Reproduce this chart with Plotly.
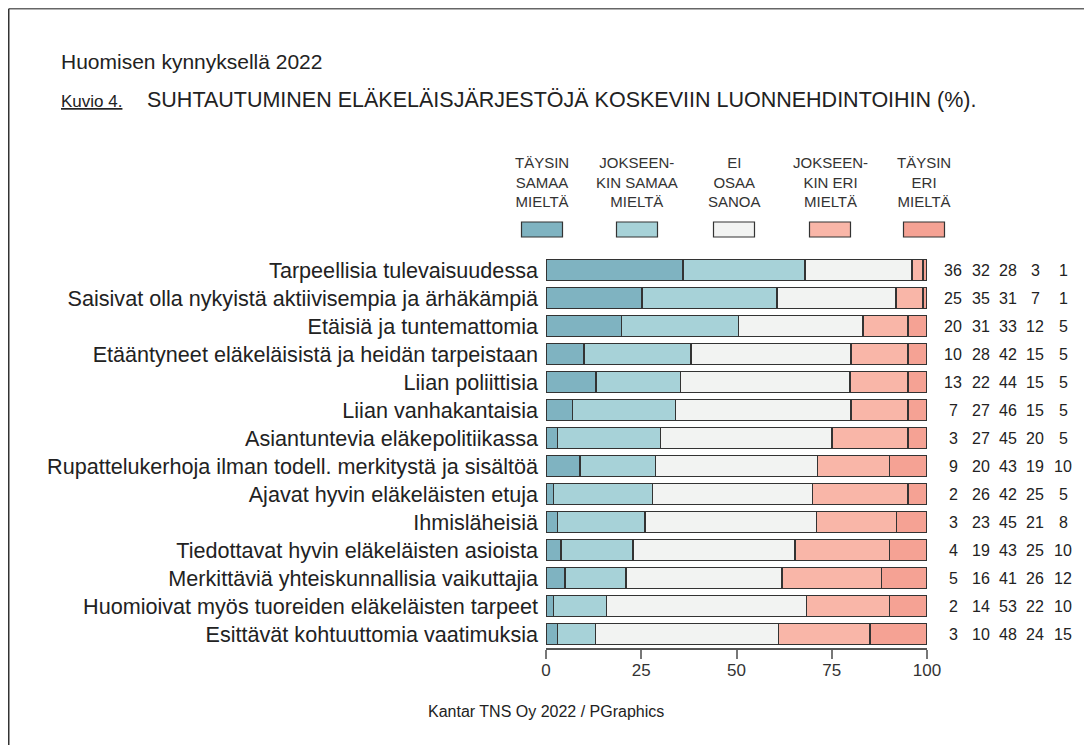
import plotly.graph_objects as go

# ---------------- data ----------------
categories = [
    "Tarpeellisia tulevaisuudessa",
    "Saisivat olla nykyistä aktiivisempia ja ärhäkämpiä",
    "Etäisiä ja tuntemattomia",
    "Etääntyneet eläkeläisistä ja heidän tarpeistaan",
    "Liian poliittisia",
    "Liian vanhakantaisia",
    "Asiantuntevia eläkepolitiikassa",
    "Rupattelukerhoja ilman todell. merkitystä ja sisältöä",
    "Ajavat hyvin eläkeläisten etuja",
    "Ihmisläheisiä",
    "Tiedottavat hyvin eläkeläisten asioista",
    "Merkittäviä yhteiskunnallisia vaikuttajia",
    "Huomioivat myös tuoreiden eläkeläisten tarpeet",
    "Esittävät kohtuuttomia vaatimuksia",
]
taysin_samaa = [36, 25, 20, 10, 13, 7, 3, 9, 2, 3, 4, 5, 2, 3]
jokseenkin_samaa = [32, 35, 31, 28, 22, 27, 27, 20, 26, 23, 19, 16, 14, 10]
ei_osaa = [28, 31, 33, 42, 44, 46, 45, 43, 42, 45, 43, 41, 53, 48]
jokseenkin_eri = [3, 7, 12, 15, 15, 15, 20, 19, 25, 21, 25, 26, 22, 24]
taysin_eri = [1, 1, 5, 5, 5, 5, 5, 10, 5, 8, 10, 12, 10, 15]

series_names = ["TÄYSIN<br>SAMAA<br>MIELTÄ", "JOKSEEN-<br>KIN SAMAA<br>MIELTÄ",
                "EI<br>OSAA<br>SANOA", "JOKSEEN-<br>KIN ERI<br>MIELTÄ", "TÄYSIN<br>ERI<br>MIELTÄ"]
series_values = [taysin_samaa, jokseenkin_samaa, ei_osaa, jokseenkin_eri, taysin_eri]
x_ticks = [0, 25, 50, 75, 100]

# ---------------- style ----------------
colors = ["#7FB3C1", "#A7D2D8", "#F2F3F2", "#F9B6A8", "#F5A294"]
outline = "#333333"
OFF = 8                      # page body margin of the browser
W, H = 1092 - OFF, 745 - OFF
L = 546 - OFF
R = W - (927 - OFF)
T = 256 - OFF
B = H - (648 - OFF)
FONT = "Liberation Sans, Arial, sans-serif"


def px2x(px):
    """reference-screen x pixel -> paper coordinate"""
    return (px - OFF - L) / (W - L - R)


def px2y(py):
    """reference-screen y pixel -> paper coordinate"""
    return (H - B - (py - OFF)) / (H - T - B)


fig = go.Figure()
for name, vals, col in zip(series_names, series_values, colors):
    fig.add_trace(go.Bar(
        y=categories, x=vals, orientation="h", name=name,
        marker=dict(color=col, line=dict(color=outline, width=1.5)),
        showlegend=False,
    ))

# right-hand value columns
col_px = [953, 981, 1008, 1035, 1063]
for cx, vals in zip(col_px, series_values):
    for cat, v in zip(categories, vals):
        fig.add_annotation(x=px2x(cx), xref="paper", y=cat, yref="y",
                           text=str(v), showarrow=False, xanchor="center",
                           font=dict(family=FONT, size=16, color="#222"))

# legend (text above swatch)
leg_px = [542, 637, 734, 830, 924]
for cx, name, col in zip(leg_px, series_names, colors):
    fig.add_annotation(x=px2x(cx), xref="paper", y=px2y(182), yref="paper",
                       text=name, showarrow=False, xanchor="center", yanchor="middle",
                       font=dict(family=FONT, size=15, color="#333"))
    fig.add_shape(type="rect", xref="paper", yref="paper",
                  x0=px2x(cx - 20.5), x1=px2x(cx + 20.5),
                  y0=px2y(237), y1=px2y(222),
                  fillcolor=col, line=dict(color=outline, width=1.2))

# titles
fig.add_annotation(x=px2x(59), xref="paper", y=px2y(62), yref="paper",
                   text="Huomisen kynnyksellä 2022", showarrow=False,
                   xanchor="left", yanchor="middle",
                   font=dict(family=FONT, size=21, color="#222"))
fig.add_annotation(x=px2x(59), xref="paper", y=px2y(101), yref="paper",
                   text="<u>Kuvio 4.</u>", showarrow=False,
                   xanchor="left", yanchor="middle",
                   font=dict(family=FONT, size=17, color="#222"))
fig.add_annotation(x=px2x(145), xref="paper", y=px2y(100), yref="paper",
                   text="SUHTAUTUMINEN ELÄKELÄISJÄRJESTÖJÄ KOSKEVIIN LUONNEHDINTOIHIN (%).",
                   showarrow=False, xanchor="left", yanchor="middle",
                   font=dict(family=FONT, size=21.5, color="#222"))
fig.add_annotation(x=px2x(546), xref="paper", y=px2y(711), yref="paper",
                   text="Kantar TNS Oy 2022 / PGraphics", showarrow=False,
                   xanchor="center", yanchor="middle",
                   font=dict(family=FONT, size=16, color="#222"))

# outer frame (top and left visible)
fig.add_shape(type="line", xref="paper", yref="paper",
              x0=px2x(8.75), x1=px2x(1100), y0=px2y(8.75), y1=px2y(8.75),
              line=dict(color="#666", width=1.5))
fig.add_shape(type="line", xref="paper", yref="paper",
              x0=px2x(8.75), x1=px2x(8.75), y0=px2y(8.75), y1=px2y(760),
              line=dict(color="#333", width=1.5))

fig.update_layout(
    width=W, height=H,
    margin=dict(l=L, r=R, t=T, b=B, autoexpand=False),
    barmode="stack", barnorm="percent", bargap=0.25,
    plot_bgcolor="white", paper_bgcolor="white",
    font=dict(family=FONT, color="#222"),
    xaxis=dict(range=[0, 100], tickvals=x_ticks, ticks="outside", ticklen=9,
               tickwidth=1.5, tickcolor="#777", showline=True, linecolor="#555",
               linewidth=1.5, showgrid=False, zeroline=False, ticklabelstandoff=-3,
               tickfont=dict(family=FONT, size=17, color="#333")),
    yaxis=dict(categoryorder="array", categoryarray=categories,
               range=[len(categories) - 0.5, -0.5], ticks="", showline=False,
               showgrid=False, zeroline=False, ticklabelstandoff=7,
               tickfont=dict(family=FONT, size=21.6, color="#222")),
)

fig.write_html("out.html")
